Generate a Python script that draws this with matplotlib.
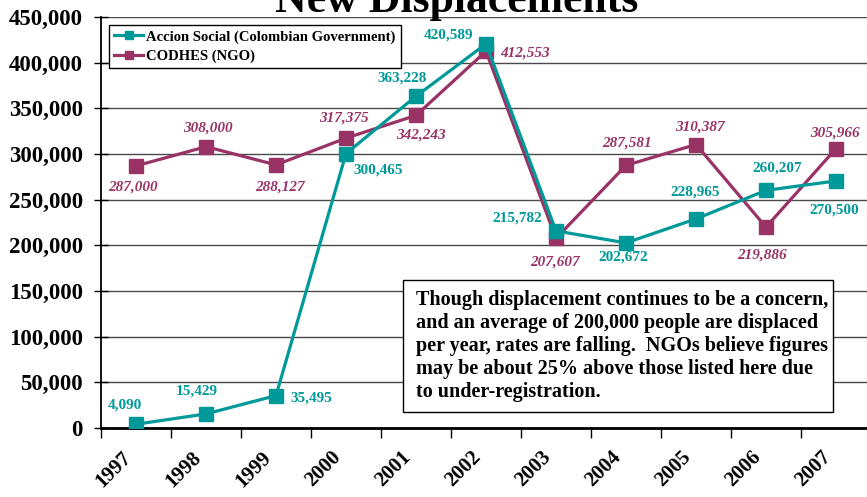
import matplotlib
matplotlib.use("Agg")
import matplotlib.pyplot as plt
from matplotlib.patches import Rectangle
from matplotlib.ticker import FuncFormatter, MultipleLocator
from matplotlib.transforms import ScaledTranslation

plt.rcParams['font.family'] = ['Liberation Serif', 'DejaVu Serif']

years = ['1997', '1998', '1999', '2000', '2001', '2002', '2003', '2004', '2005', '2006', '2007']
accion = [4090, 15429, 35495, 300465, 363228, 420589, 215782, 202672, 228965, 260207, 270500]
codhes = [287000, 308000, 288127, 317375, 342243, 412553, 207607, 287581, 310387, 219886, 305966]
accion_name = 'Accion Social (Colombian Government)'
codhes_name = 'CODHES (NGO)'
title = 'New Displacements'
note = ("Though displacement continues to be a concern,\n"
        "and an average of 200,000 people are displaced\n"
        "per year, rates are falling.  NGOs believe figures\n"
        "may be about 25% above those listed here due\n"
        "to under-registration.")

# label offsets in pixels (dx, dy with y up)
acc_off = [(-11, 19), (-9, 23), (35, -2), (32, -16), (-14, 18), (-37, 9),
           (-39, 13), (-3, -14), (-1, 27), (11, 22), (-2, -29)]
cod_off = [(-3, -21), (2, 19), (4, -22), (-2, 20), (5, -20), (39, -2),
           (-1, -24), (1, 22), (4, 17), (-4, -28), (-1, 16)]

TEAL = '#009999'
PLUM = '#993366'

W, H = 867, 497
fig = plt.figure(figsize=(W / 100, H / 100), dpi=100)
ax = fig.add_axes([101 / W, 69 / H, 770 / W, 411 / H])

x = list(range(len(years)))
ax.plot(x, accion, color=TEAL, lw=2.3, marker='s', ms=10, label=accion_name, zorder=4)
ax.plot(x, codhes, color=PLUM, lw=2.3, marker='s', ms=10, label=codhes_name, zorder=3)

ax.set_xlim(-0.5, len(years) - 0.5)
ax.set_ylim(0, 450000)
ax.yaxis.set_major_locator(MultipleLocator(50000))
ax.yaxis.set_major_formatter(FuncFormatter(lambda v, p: f'{int(v):,}'))
ax.grid(axis='y', color='#4a4a4a', lw=1.0)
ax.set_axisbelow(True)

for s in ['top', 'right']:
    ax.spines[s].set_visible(False)
ax.spines['left'].set_linewidth(1.3)
ax.spines['bottom'].set_linewidth(2.0)

ax.tick_params(axis='y', direction='inout', length=10, width=1, pad=8,
               labelsize=16.5)
for lab in ax.get_yticklabels():
    lab.set_fontweight('bold')

ax.set_xticks(x)
ax.set_xticklabels(years, rotation=45, ha='right', va='center',
                   rotation_mode='anchor', fontweight='bold', fontsize=15)
ax.tick_params(axis='x', which='major', length=0, pad=19)
shift = ScaledTranslation(-8 / 100, 0, fig.dpi_scale_trans)
for lab in ax.get_xticklabels():
    lab.set_transform(lab.get_transform() + shift)
ax.set_xticks([i + 0.5 for i in range(-1, len(years))], minor=True)
ax.tick_params(axis='x', which='minor', direction='out', length=7, width=1)

for i, v in enumerate(accion):
    ax.annotate(f'{v:,}', (i, v), xytext=acc_off[i], textcoords='offset pixels',
                ha='center', va='center', color=TEAL, fontsize=11,
                fontweight='bold', zorder=6)
for i, v in enumerate(codhes):
    ax.annotate(f'{v:,}', (i, v), xytext=cod_off[i], textcoords='offset pixels',
                ha='center', va='center', color=PLUM, fontsize=11,
                fontweight='bold', fontstyle='italic', zorder=6)

leg = fig.legend(loc='upper left', bbox_to_anchor=(109 / W, 1 - 25 / H),
                 borderaxespad=0, fancybox=False, edgecolor='black',
                 framealpha=1, prop={'weight': 'bold', 'size': 10.5},
                 handlelength=2.0, handletextpad=0.2, borderpad=0.35,
                 labelspacing=0.4)
leg.get_frame().set_linewidth(1.0)
for h in leg.legend_handles:
    h.set_markersize(6)

fig.text(457 / W, 1 - 12 / H, title, ha='center', va='baseline',
         fontsize=31.5, fontweight='bold')

fig.patches.append(Rectangle((403 / W, 1 - 412 / H), 430 / W, 132 / H,
                             transform=fig.transFigure, facecolor='white',
                             edgecolor='black', lw=1.0, zorder=5))
fig.text(416 / W, 1 - 290 / H, note, ha='left', va='top', fontsize=14.5,
         fontweight='bold', linespacing=1.2, zorder=6)

fig.savefig('out.png', dpi=100)
